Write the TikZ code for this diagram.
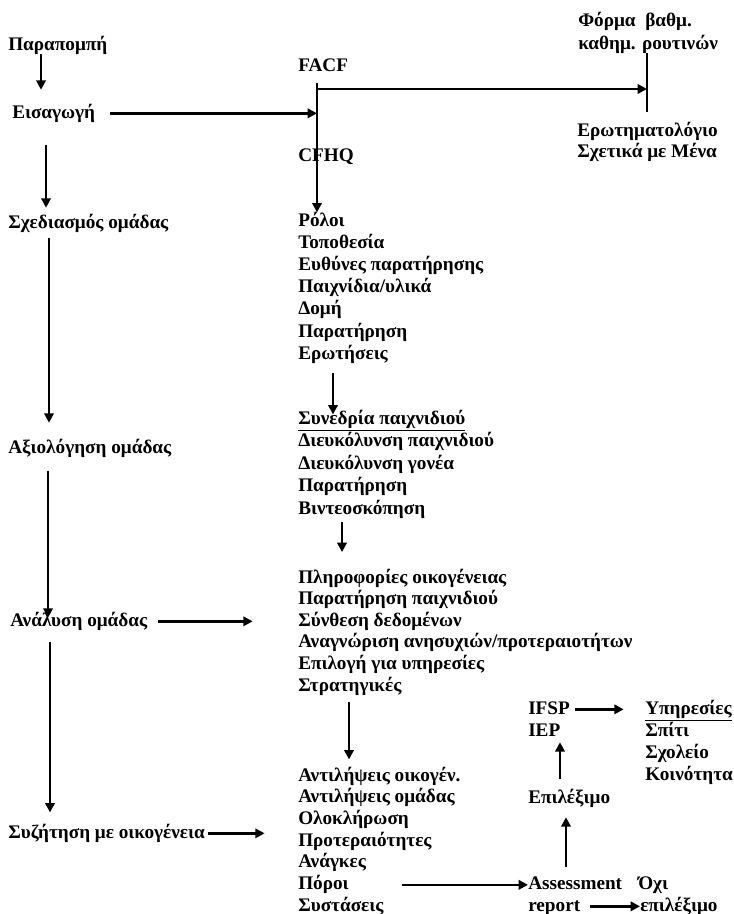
\documentclass[tikz,border=0pt]{standalone}
\usepackage{fontspec}
\setmainfont{Liberation Serif}
\usetikzlibrary{arrows.meta}
\tikzset{
  lbl/.style={anchor=base west, inner sep=0pt, text height=10pt, text depth=3pt,
    font=\fontsize{14.4}{16}\selectfont\bfseries},
  arr/.style={line width=1.9pt, -{Triangle[length=7pt,width=7pt]}},
  thinline/.style={line width=0.9pt}
}
\begin{document}
\begin{tikzpicture}[x=0.75pt,y=-0.75pt]
\useasboundingbox (0,0) rectangle (734,914);
% left column
\node[lbl] (par) at (8,50) {Παραπομπή};
\node[lbl] (eis) at (12,118) {Εισαγωγή};
\node[lbl] (sxe) at (8,228) {Σχεδιασμός ομάδας};
\node[lbl] (axi) at (8,453) {Αξιολόγηση ομάδας};
\node[lbl] (ana) at (10,626) {Ανάλυση ομάδας};
\node[lbl] (syz) at (8,838) {Συζήτηση με οικογένεια};
% top
\node[lbl] (facf) at (298,71) {FACF};
\node[lbl] (cfhq) at (298,161) {CFHQ};
\node[lbl] (form1) at (578,26) {Φόρμα\ \ βαθμ.};
\node[lbl] (form2) at (578,49) {καθημ. ρουτινών};
\node[lbl] (erq1) at (577,136) {Ερωτηματολόγιο};
\node[lbl] (erq2) at (577,157) {Σχετικά με Μένα};
% right column blocks
\foreach \t [count=\i] in {Ρόλοι,Τοποθεσία,Ευθύνες παρατήρησης,{Παιχνίδια/υλικά},Δομή,Παρατήρηση,Ερωτήσεις}
  \node[lbl] (r\i) at (298,{226+22.2*(\i-1)}) {\t};
\foreach \t [count=\i] in {\underline{Συνεδρία παιχνιδιού},Διευκόλυνση παιχνιδιού,Διευκόλυνση γονέα,Παρατήρηση,Βιντεοσκόπηση}
  \node[lbl] (s\i) at (298,{424+22.5*(\i-1)}) {\t};
\foreach \t [count=\i] in {Πληροφορίες οικογένειας,Παρατήρηση παιχνιδιού,Σύνθεση δεδομένων,{Αναγνώριση ανησυχιών/προτεραιοτήτων},Επιλογή για υπηρεσίες,Στρατηγικές}
  \node[lbl] (p\i) at (298,{583+21.6*(\i-1)}) {\t};
\foreach \t [count=\i] in {Αντιλήψεις οικογέν.,Αντιλήψεις ομάδας,Ολοκλήρωση,Προτεραιότητες,Ανάγκες,Πόροι,Συστάσεις}
  \node[lbl] (d\i) at (298,{781+21.7*(\i-1)}) {\t};
% bottom right
\node[lbl] (ifsp) at (528,714) {IFSP};
\node[lbl] (iep) at (528,736) {IEP};
\node[lbl] (epi) at (528,803) {Επιλέξιμο};
\node[lbl] (ass) at (528,889) {Assessment};
\node[lbl] (rep) at (528,911) {report};
\node[lbl] (oxi1) at (638,889) {Όχι};
\node[lbl] (oxi2) at (640,911) {επιλέξιμο};
\foreach \t [count=\i] in {\underline{Υπηρεσίες},Σπίτι,Σχολείο,Κοινότητα}
  \node[lbl] (yp\i) at (645,{714+22*(\i-1)}) {\t};
% coordinates
\coordinate (br) at (317,89);
% connectors left column
\draw[arr, shorten >=11pt] (41,0 |- par.south) -- (41,0 |- eis.north);
\draw[arr, shorten <=11pt] (eis.east) -- (eis.east -| br);
\draw[arr, shorten <=17pt, shorten >=5pt] (46,0 |- eis.south) -- (46,0 |- sxe.north);
\draw[arr, shorten <=4pt, shorten >=12.5pt] (49,0 |- sxe.south) -- (49,0 |- axi.north);
\draw[arr, shorten <=10pt, shorten >=-4pt] (48,0 |- axi.south) -- (48,0 |- ana.north);
\draw[arr, shorten <=8pt, shorten >=34pt] (ana.east) -- (ana.east -| p3.west);
\draw[arr, shorten <=9pt, shorten >=9pt] (50,0 |- ana.south) -- (50,0 |- syz.north);
\draw[arr, shorten <=2pt, shorten >=25pt] (syz.east) -- (syz.east -| d4.west);
% top connectors
\draw[thinline, shorten <=6pt] (317,0 |- facf.south) -- (317,0 |- cfhq.south);
\draw[arr] (317,0 |- cfhq.south) -- (317,0 |- r1.north);
\draw[arr] (br) -- (br -| 647,0);
\draw[thinline, shorten >=8pt] (647,0 |- form2.south) -- (647,0 |- erq1.north);
% right column connectors
\draw[arr, shorten <=7pt, shorten >=-3pt] (333,0 |- r7.south) -- (333,0 |- s1.north);
\draw[arr, shorten <=3pt, shorten >=13pt] (342,0 |- s5.south) -- (342,0 |- p1.north);
\draw[arr, shorten <=5pt, shorten >=6pt] (349,0 |- p6.south) -- (349,0 |- d1.north);
\draw[arr, shorten <=40pt] (d6.east) -- (d6.east -| ass.west);
\draw[arr, shorten <=7pt] (rep.east) -- (rep.east -| oxi2.west);
\draw[arr, shorten <=6pt, shorten >=7.5pt] (566,0 |- ass.north) -- (566,0 |- epi.south);
\draw[arr, shorten <=7.5pt, shorten >=1.5pt] (560,0 |- epi.north) -- (560,0 |- iep.south);
\draw[arr, shorten <=4pt, shorten >=16pt] (ifsp.east) -- (ifsp.east -| yp1.west);
\end{tikzpicture}
\end{document}
